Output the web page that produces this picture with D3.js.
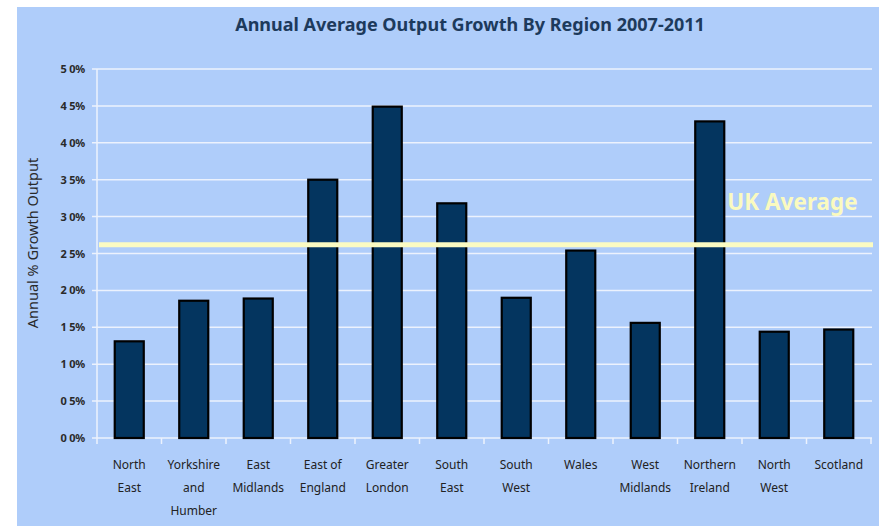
<!DOCTYPE html>
<html><head><meta charset="utf-8">
<script src="https://cdn.jsdelivr.net/npm/d3@7"></script>
<style>
html,body{margin:0;padding:0;background:#fff;}
svg{display:block;}
</style></head>
<body>
<svg id="chart" width="879" height="526"></svg>
<script>
const regions = [["North","East"],["Yorkshire","and","Humber"],["East","Midlands"],["East of","England"],["Greater","London"],["South","East"],["South","West"],["Wales"],["West","Midlands"],["Northern","Ireland"],["North","West"],["Scotland"]];
const growth = [1.31, 1.86, 1.89, 3.50, 4.49, 3.18, 1.90, 2.54, 1.56, 4.29, 1.44, 1.47];
const ukAverage = 2.62;
const yTicks = [0,0.5,1,1.5,2,2.5,3,3.5,4,4.5,5];
const yTickLabels = ["0 0%","0 5%","1 0%","1 5%","2 0%","2 5%","3 0%","3 5%","4 0%","4 5%","5 0%"];
const title = "Annual Average Output Growth By Region 2007-2011";
const yTitle = "Annual % Growth Output";
const avgLabel = "UK Average";

(function(){
const svg = d3.select("#chart");
const W = 879, H = 526;
const pL = 97, pR = 871, pT = 69, pB = 438;
const font = "'Noto Sans', 'DejaVu Sans', sans-serif";

svg.append("rect").attr("x",17).attr("y",7).attr("width",W-17).attr("height",H-7).attr("fill","#AFCDFA");

const x = d3.scaleBand().domain(d3.range(regions.length)).range([pL,pR]).paddingInner(0.55).paddingOuter(0.275);
const y = d3.scaleLinear().domain([0,5]).range([pB,pT]);

svg.append("g").selectAll("line").data(yTicks).join("line")
  .attr("x1",pL-5).attr("x2",pR+1)
  .attr("y1",d=>y(d)).attr("y2",d=>y(d))
  .attr("stroke","#ECF2FD").attr("stroke-width",1.5);

svg.append("line").attr("x1",pL).attr("x2",pL).attr("y1",pT).attr("y2",pB)
  .attr("stroke","#ECF2FD").attr("stroke-width",1.5);

svg.append("g").selectAll("text").data(yTicks).join("text")
  .attr("x",pL-12).attr("y",d=>y(d)+4)
  .attr("text-anchor","end").attr("font-family",font).attr("font-size",11)
  .attr("font-weight","bold").attr("letter-spacing","-0.2").attr("fill","#2a2a2a")
  .text((d,i)=>yTickLabels[i]);

const tickXs = d3.range(regions.length+1).map(i=> pL + i*(pR-pL)/regions.length);
svg.append("g").selectAll("line").data(tickXs).join("line")
  .attr("x1",d=>d).attr("x2",d=>d).attr("y1",pB).attr("y2",pB+6)
  .attr("stroke","#ECF2FD").attr("stroke-width",1.5);

svg.append("g").selectAll("rect").data(growth).join("rect")
  .attr("x",(d,i)=>x(i)).attr("y",d=>y(d))
  .attr("width",x.bandwidth()).attr("height",d=>pB-y(d))
  .attr("fill","#04355F").attr("stroke","#000").attr("stroke-width",2.2);

svg.append("line").attr("x1",pL+2).attr("x2",pR+2)
  .attr("y1",y(ukAverage)).attr("y2",y(ukAverage))
  .attr("stroke","#FBFBC2").attr("stroke-width",5);

svg.append("text").attr("x",x(9)+x.bandwidth()+3).attr("y",210)
  .attr("font-family","'Noto Sans', sans-serif").attr("font-size",22.5).attr("font-weight","bold")
  .attr("fill","#FAFAC0").text(avgLabel);

const xl = svg.append("g");
regions.forEach((lines,i)=>{
  const cx = x(i)+x.bandwidth()/2;
  lines.forEach((ln,j)=>{
    xl.append("text").attr("x",cx).attr("y",469+j*23)
      .attr("text-anchor","middle").attr("font-family",font).attr("font-size",12)
      .attr("fill","#222").text(ln);
  });
});

svg.append("text").attr("x",470).attr("y",31).attr("text-anchor","middle")
  .attr("font-family",font).attr("font-size",18).attr("font-weight","bold")
  .attr("fill","#1D3A5C").text(title);

svg.append("text").attr("transform","translate(38,243) rotate(-90)")
  .attr("text-anchor","middle").attr("font-family",font).attr("font-size",14.5)
  .attr("fill","#2a2a2a").text(yTitle);
})();
</script>
</body></html>
